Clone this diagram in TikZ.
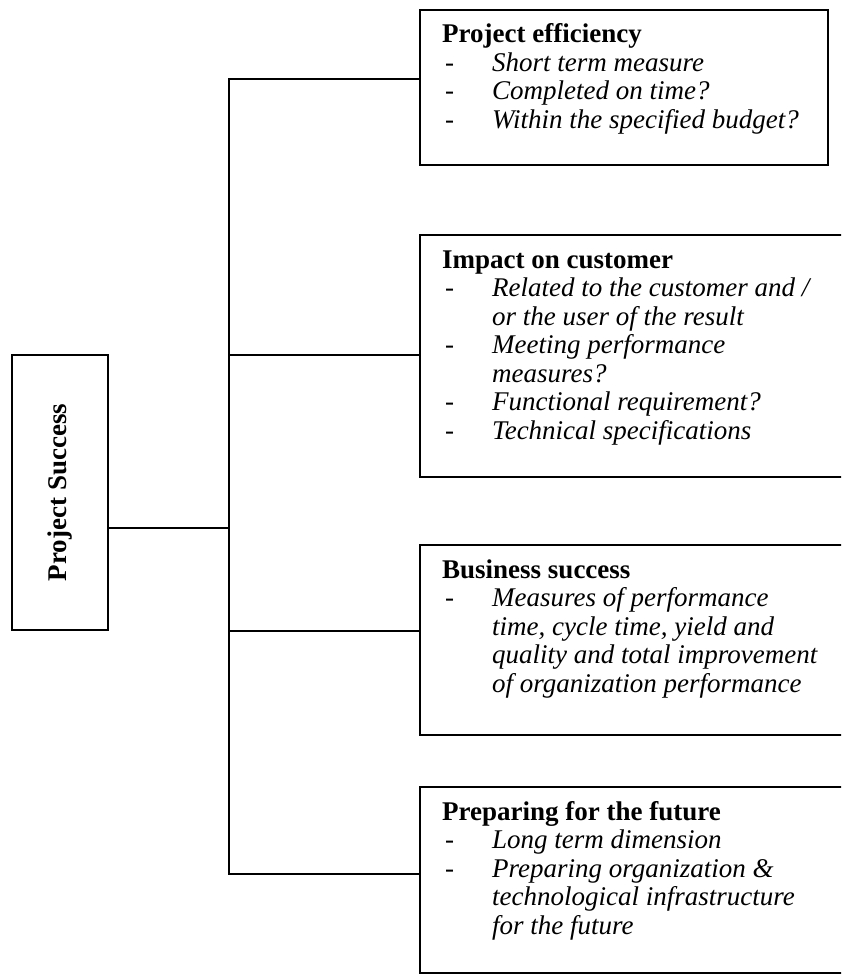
\documentclass[tikz,border=0pt]{standalone}
\usepackage{fontspec}
\setmainfont{Liberation Serif}
\usepackage{array}
\begin{document}
\begin{tikzpicture}[x=1pt,y=-1pt,
  frame/.style={draw, line width=1.8pt, rectangle, anchor=north west,
                inner sep=0pt, outer sep=0pt},
  wire/.style={line width=1.8pt},
  body/.style={anchor=base west, inner sep=0pt,
               font=\fontsize{27}{28.5}\selectfont}]
\useasboundingbox (0,0) rectangle (841,976);
\clip (0,0) rectangle (841,976);

% root box
\node[frame, minimum width=96pt, minimum height=275pt] (ps) at (12,355)
  {\rotatebox{90}{\fontsize{27}{30}\selectfont\bfseries Project Success}};

% dimension boxes
\node[frame, minimum width=408pt, minimum height=155pt] (b1) at (420,10) {};
\node[frame, minimum width=440pt, minimum height=242pt] (b2) at (420,235) {};
\node[frame, minimum width=440pt, minimum height=190pt] (b3) at (420,545) {};
\node[frame, minimum width=440pt, minimum height=186pt] (b4) at (420,787) {};

% box contents
\node[body] (t1) at (442,43) {\begin{tabular}[t]{@{}p{50pt}@{}l@{}}
\multicolumn{2}{@{}l@{}}{\textbf{Project efficiency}}\\
\hspace{3pt}- & \textit{Short term measure}\\
\hspace{3pt}- & \textit{Completed on time?}\\
\hspace{3pt}- & \textit{Within the specified budget?}
\end{tabular}};

\node[body] (t2) at (442,268) {\begin{tabular}[t]{@{}p{50pt}@{}l@{}}
\multicolumn{2}{@{}l@{}}{\textbf{Impact on customer}}\\
\hspace{3pt}- & \textit{Related to the customer and /}\\
 & \textit{or the user of the result}\\
\hspace{3pt}- & \textit{Meeting performance}\\
 & \textit{measures?}\\
\hspace{3pt}- & \textit{Functional requirement?}\\
\hspace{3pt}- & \textit{Technical specifications}
\end{tabular}};

\node[body] (t3) at (442,578) {\begin{tabular}[t]{@{}p{50pt}@{}l@{}}
\multicolumn{2}{@{}l@{}}{\textbf{Business success}}\\
\hspace{3pt}- & \textit{Measures of performance}\\
 & \textit{time, cycle time, yield and}\\
 & \textit{quality and total improvement}\\
 & \textit{of organization performance}
\end{tabular}};

\node[body] (t4) at (442,820) {\begin{tabular}[t]{@{}p{50pt}@{}l@{}}
\multicolumn{2}{@{}l@{}}{\textbf{Preparing for the future}}\\
\hspace{3pt}- & \textit{Long term dimension}\\
\hspace{3pt}- & \textit{Preparing organization \&}\\
 & \textit{technological infrastructure}\\
 & \textit{for the future}
\end{tabular}};

% connector junctions on the trunk
\coordinate (j0) at (229,528);
\coordinate (j1) at (229,79);
\coordinate (j2) at (229,355);
\coordinate (j3) at (229,631);
\coordinate (j4) at (229,874);

% connectors
\draw[wire] (ps.east |- j0) -- (j0);
\draw[wire] (b1.west |- j1) -- (j1) -- (j4) -- (b4.west |- j4);
\draw[wire] (j2) -- (b2.west |- j2);
\draw[wire] (j3) -- (b3.west |- j3);
\end{tikzpicture}
\end{document}
